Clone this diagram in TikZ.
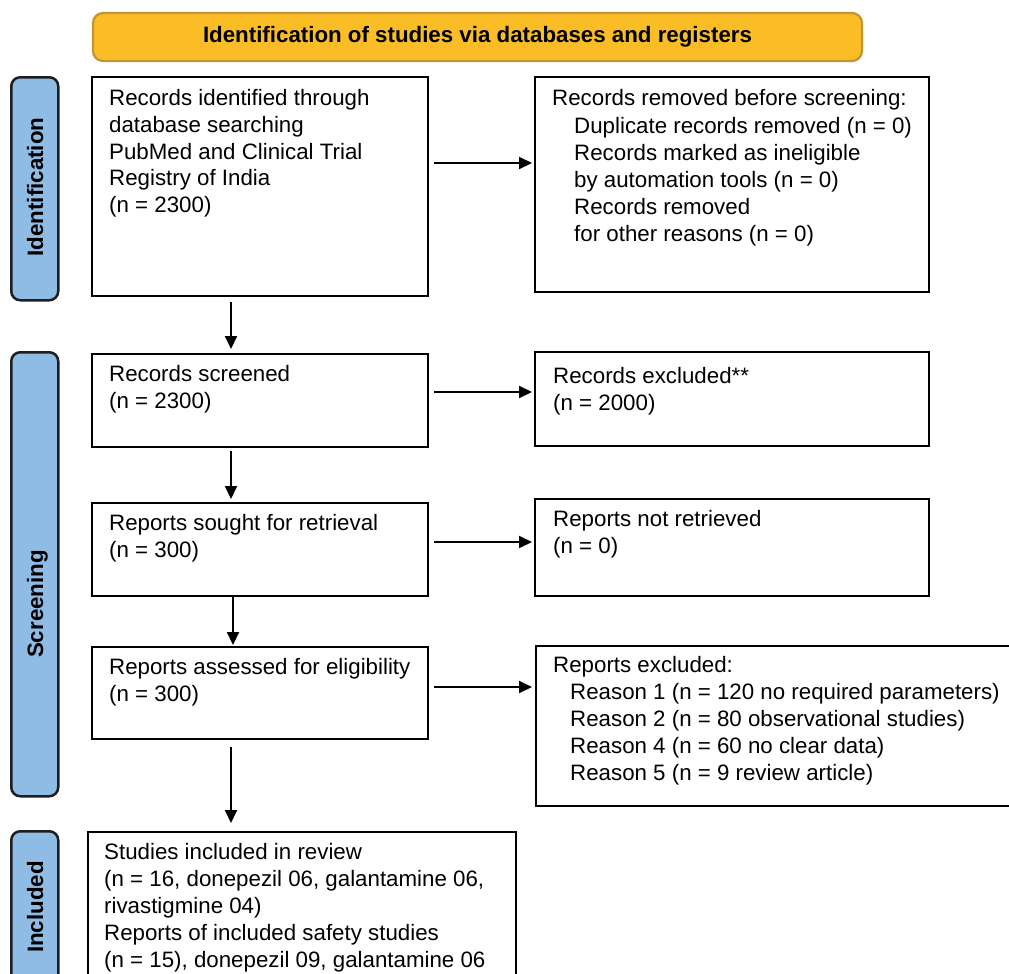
\documentclass[tikz,border=0pt]{standalone}
\usepackage{fontspec}
\setmainfont{Liberation Sans}
\usetikzlibrary{arrows.meta}
\definecolor{bannerfill}{RGB}{251,189,38}
\definecolor{bannerdraw}{RGB}{193,148,52}
\definecolor{barfill}{RGB}{143,188,229}
\definecolor{bardraw}{RGB}{30,30,30}
\newcommand\mainsz{\fontsize{22.3}{27}\selectfont}
\newcommand\boxlines[1]{\parbox[t]{22cm}{\raggedright\mainsz #1}}
\begin{document}
\begin{tikzpicture}[x=1pt,y=-1pt,
  box/.style={draw=black, line width=2.2pt, rectangle, inner sep=0pt, anchor=north west},
  bar/.style={draw=bardraw, fill=barfill, line width=2.5pt, rounded corners=9pt, rectangle, anchor=north west, minimum width=47pt, inner sep=0pt},
  barlabel/.style={rotate=90, anchor=base, font=\mainsz\bfseries, inner sep=0pt},
  banner/.style={draw=bannerdraw, fill=bannerfill, line width=2.2pt, rounded corners=10pt, rectangle, minimum width=769pt, minimum height=48pt, inner sep=0pt, font=\mainsz\bfseries},
  txt/.style={anchor=base west, inner sep=0pt},
  arr/.style={line width=2pt, -{Triangle[length=13pt,width=12pt]}}
]
\useasboundingbox (0,0) rectangle (1009,974);
\clip (0,0) rectangle (1009,974);

% banner
\node[banner] (ban) at (477.5,37) {Identification of studies via databases and registers};

% side bars
\node[bar, minimum height=223pt] (barid) at (10,76) {};
\node[bar, minimum height=444pt] (barscr) at (10,351) {};
\node[bar, minimum height=200pt] (barinc) at (10,830) {};
\node[barlabel] (lblid) at (43,187) {Identification};
\node[barlabel] (lblscr) at (43,604) {Screening};
\node[barlabel] (lblinc) at (43,907) {Included};

% boxes
\node[box, minimum width=336pt, minimum height=219pt] (b1) at (91,76) {};
\node[box, minimum width=394pt, minimum height=215pt] (b2) at (534,76) {};
\node[box, minimum width=336pt, minimum height=93pt] (scr) at (91,353) {};
\node[box, minimum width=394pt, minimum height=94pt] (exc) at (534,351) {};
\node[box, minimum width=336pt, minimum height=93pt] (sought) at (91,502) {};
\node[box, minimum width=394pt, minimum height=97pt] (notret) at (534,498) {};
\node[box, minimum width=336pt, minimum height=92pt] (assess) at (91,646) {};
\node[box, minimum width=490pt, minimum height=160pt] (repexc) at (535,645) {};
\node[box, minimum width=428pt, minimum height=180pt] (incl) at (87,831) {};

% texts
\node[txt] (t1) at (109,105) {\boxlines{Records identified through\\database searching\\PubMed and Clinical Trial\\Registry of India\\(n = 2300)}};
\node[txt] (t2) at (552,105) {\boxlines{Records removed before screening:\\[1.5pt]
\hspace*{22pt}Duplicate records removed (n = 0)\\
\hspace*{22pt}Records marked as ineligible\\
\hspace*{22pt}by automation tools (n = 0)\\
\hspace*{22pt}Records removed\\
\hspace*{22pt}for other reasons (n = 0)}};
\node[txt] (t3) at (109,381) {\boxlines{Records screened\\(n = 2300)}};
\node[txt] (t4) at (553,383) {\boxlines{Records excluded**\\(n = 2000)}};
\node[txt] (t5) at (109,530) {\boxlines{Reports sought for retrieval\\(n = 300)}};
\node[txt] (t6) at (553,526) {\boxlines{Reports not retrieved\\(n = 0)}};
\node[txt] (t7) at (109,674) {\boxlines{Reports assessed for eligibility\\(n = 300)}};
\node[txt] (t8) at (553,672) {\boxlines{Reports excluded:\\
\hspace*{17pt}Reason 1 (n = 120 no required parameters)\\
\hspace*{17pt}Reason 2 (n = 80 observational studies)\\
\hspace*{17pt}Reason 4 (n = 60 no clear data)\\
\hspace*{17pt}Reason 5 (n = 9 review article)}};
\node[txt] (t9) at (104,859) {\boxlines{Studies included in review\\(n = 16, donepezil 06, galantamine 06,\\rivastigmine 04)\\Reports of included safety studies\\(n = 15), donepezil 09, galantamine 06}};

% guide coordinates
\coordinate (r1) at (0,163);
\coordinate (r2) at (0,392);
\coordinate (r3) at (0,542);
\coordinate (r4) at (0,687);
\coordinate (c1) at (231,0);
\coordinate (c2) at (233,0);

% horizontal arrows
\draw[arr, shorten <=5pt, shorten >=2pt] (b1.east |- r1) -- (b2.west |- r1);
\draw[arr, shorten <=5pt, shorten >=2pt] (scr.east |- r2) -- (exc.west |- r2);
\draw[arr, shorten <=5pt, shorten >=2pt] (sought.east |- r3) -- (notret.west |- r3);
\draw[arr, shorten <=5pt, shorten >=3pt] (assess.east |- r4) -- (repexc.west |- r4);

% vertical arrows
\draw[arr, shorten <=5pt, shorten >=4pt] (b1.south -| c1) -- (scr.north -| c1);
\draw[arr, shorten <=3pt, shorten >=3pt] (scr.south -| c1) -- (sought.north -| c1);
\draw[arr, shorten >=1pt] (sought.south -| c2) -- (assess.north -| c2);
\draw[arr, shorten <=7pt, shorten >=8pt] (assess.south -| c1) -- (incl.north -| c1);
\end{tikzpicture}
\end{document}
